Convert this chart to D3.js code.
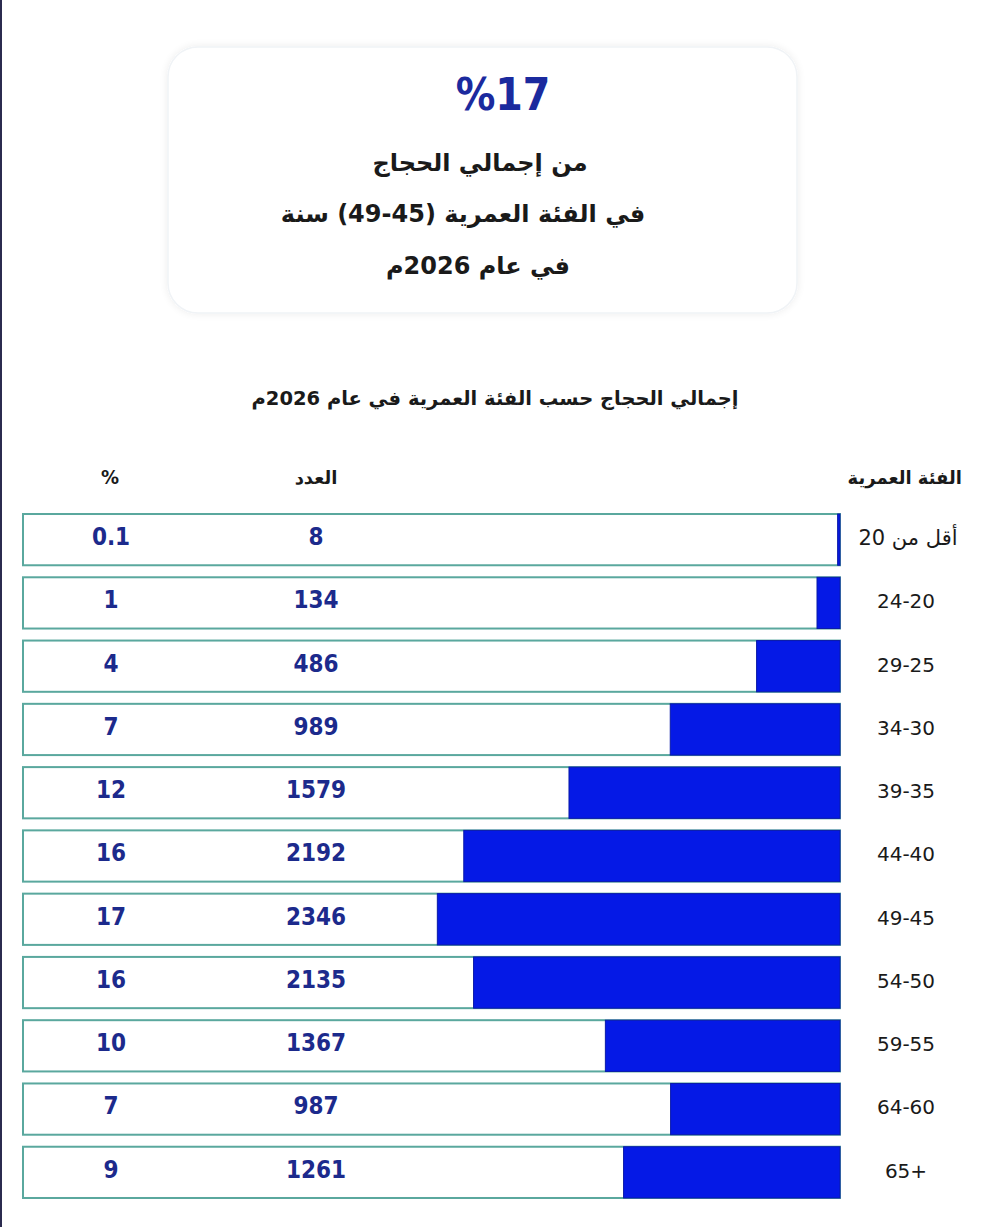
<!DOCTYPE html>
<html><head><meta charset="utf-8">
<script src="https://cdn.jsdelivr.net/npm/d3@7"></script>
<style>
html,body{margin:0;padding:0;background:#fff;}
svg{display:block;}
</style></head>
<body>
<svg id="chart" width="1000" height="1227"></svg>
<script>
const categories = ["أقل من 20","20-24","25-29","30-34","35-39","40-44","45-49","50-54","55-59","60-64","65+"];
const categoryLabels = ["أقل من 20","24-20","29-25","34-30","39-35","44-40","49-45","54-50","59-55","64-60","65+"];
const counts = [8,134,486,989,1579,2192,2346,2135,1367,987,1261];
const percents = ["0.1","1","4","7","12","16","17","16","10","7","9"];
const headline = "%17";
const headlineLines = ["من إجمالي الحجاج","في الفئة العمرية (45-49) سنة","في عام 2026م"];
const chartTitle = "إجمالي الحجاج حسب الفئة العمرية في عام 2026م";
const headers = {pct:"%", count:"العدد", cat:"الفئة العمرية"};

const svg = d3.select("#chart");
const arFont = "'DejaVu Sans', 'Noto Sans', sans-serif";
const numFont = "'DejaVu Sans Condensed', 'DejaVu Sans', sans-serif";

// left frame line
svg.append("rect").attr("x",0).attr("y",0).attr("width",2).attr("height",1227).attr("fill","#2b2b4f");

const defs = svg.append("defs");
const f = defs.append("filter").attr("id","sh").attr("x","-10%").attr("y","-10%").attr("width","120%").attr("height","120%");
f.append("feGaussianBlur").attr("in","SourceAlpha").attr("stdDeviation",4);
f.append("feOffset").attr("dx",0).attr("dy",0).attr("result","b");
f.append("feComponentTransfer").append("feFuncA").attr("type","linear").attr("slope",0.08);
const m = f.append("feMerge"); m.append("feMergeNode"); m.append("feMergeNode").attr("in","SourceGraphic");

svg.append("rect").attr("x",168).attr("y",47).attr("width",629).attr("height",266).attr("rx",30)
  .attr("fill","#fff").attr("stroke","#f0f3f6").attr("stroke-width",1.5).attr("filter","url(#sh)");

svg.append("text").attr("x",503).attr("y",110).attr("text-anchor","middle")
  .attr("font-family",numFont).attr("font-size",44).attr("font-weight","bold").attr("fill","#1b2a9e")
  .text(headline);

const lineY = [171,222,274];
const lineX = [480,463,478];
headlineLines.forEach((t,i)=>{
  svg.append("text").attr("x",lineX[i]).attr("y",lineY[i]).attr("text-anchor","middle")
    .style("direction","rtl").style("unicode-bidi","embed")
    .attr("font-family",arFont).attr("font-size",24).attr("font-weight","bold").attr("fill","#1a1a1a")
    .text(t);
});

svg.append("text").attr("x",495).attr("y",405).attr("text-anchor","middle")
  .style("direction","rtl").style("unicode-bidi","embed")
  .attr("font-family",arFont).attr("font-size",19.5).attr("font-weight","bold").attr("fill","#1a1a1a")
  .text(chartTitle);

svg.append("text").attr("x",110).attr("y",484).attr("text-anchor","middle")
  .attr("font-family",numFont).attr("font-size",20).attr("font-weight","bold").attr("fill","#1a1a1a").text(headers.pct);
svg.append("text").attr("x",316).attr("y",484).attr("text-anchor","middle")
  .style("direction","rtl").style("unicode-bidi","embed")
  .attr("font-family",arFont).attr("font-size",18).attr("font-weight","bold").attr("fill","#1a1a1a").text(headers.count);
svg.append("text").attr("x",962).attr("y",484).attr("text-anchor","start")
  .style("direction","rtl").style("unicode-bidi","embed")
  .attr("font-family",arFont).attr("font-size",18).attr("font-weight","bold").attr("fill","#1a1a1a").text(headers.cat);

const y = d3.scaleBand().domain(categories).range([508,1204]).paddingInner(0.19).paddingOuter(0.095);
const x = d3.scaleLinear().domain([0,4760]).range([840,23]);

const rows = svg.append("g").selectAll("g").data(categories).join("g")
  .attr("transform",d=>`translate(0,${y(d)})`);

rows.append("rect").attr("x",x.range()[1]).attr("y",0)
  .attr("width",x.range()[0]-x.range()[1]).attr("height",y.bandwidth())
  .attr("fill","#fff").attr("stroke","#5aa89e").attr("stroke-width",2);

rows.append("rect")
  .attr("x",(d,i)=>x(counts[i]) - (i===0?1:0))
  .attr("y",0)
  .attr("width",(d,i)=>x(0)-x(counts[i]) + (i===0?1:0))
  .attr("height",y.bandwidth())
  .attr("fill","#0519e6").attr("stroke","#0a1aa8").attr("stroke-width",1);

rows.append("text").attr("x",111).attr("y",31).attr("text-anchor","middle")
  .attr("font-family",numFont).attr("font-size",24).attr("font-weight","bold").attr("fill","#1c2a8c")
  .text((d,i)=>percents[i]);
rows.append("text").attr("x",316).attr("y",31).attr("text-anchor","middle")
  .attr("font-family",numFont).attr("font-size",24).attr("font-weight","bold").attr("fill","#1c2a8c")
  .text((d,i)=>counts[i]);
rows.append("text").attr("x",(d,i)=>i===0?908:906).attr("y",31).attr("text-anchor","middle")
  .style("direction",(d,i)=>i===0?"rtl":null).style("unicode-bidi",(d,i)=>i===0?"embed":null)
  .attr("font-family",arFont).attr("font-size",(d,i)=>i===0?21:20).attr("fill","#1a1a1a")
  .text((d,i)=>categoryLabels[i]);
</script>
</body></html>
